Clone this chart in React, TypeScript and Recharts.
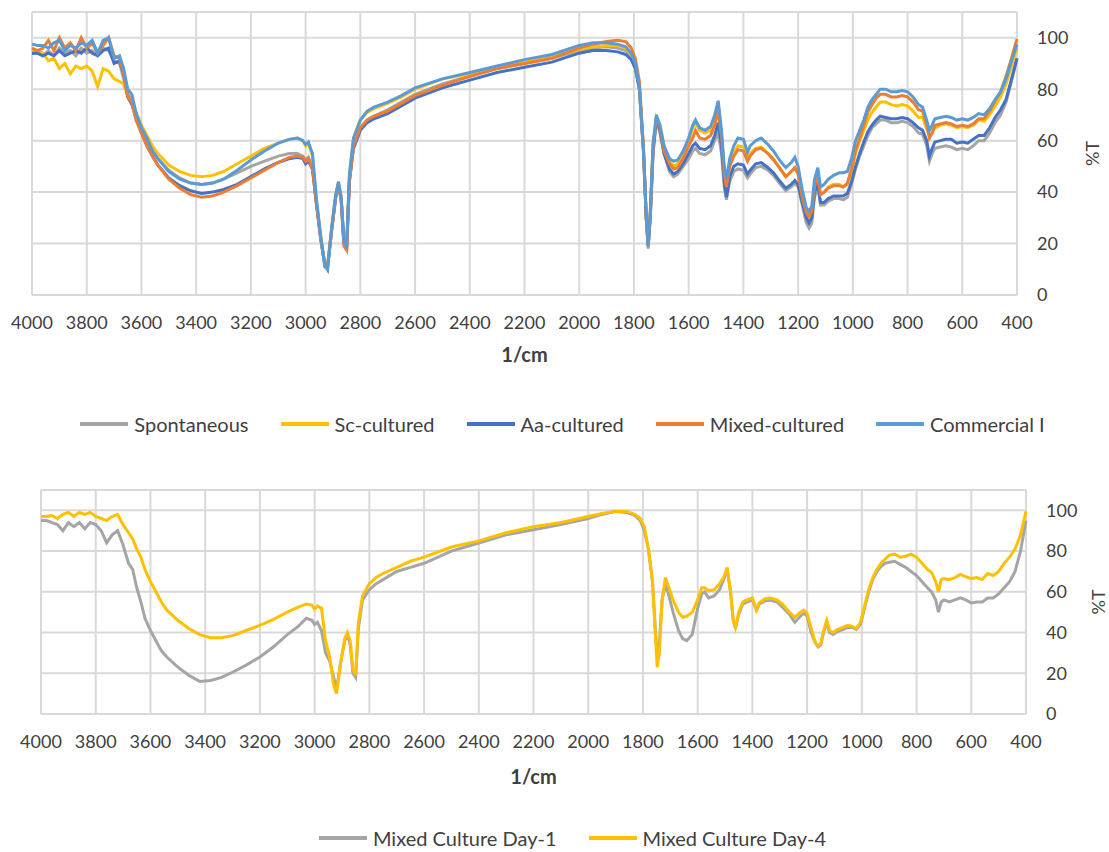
import { CartesianGrid, Line, LineChart, XAxis, YAxis } from "recharts";

// FTIR spectra (%T vs wavenumber).
const wavenumbers = [
  4000, 3980, 3960, 3940, 3920, 3900, 3880, 3860, 3840, 3820, 3800, 3780, 3760, 3740, 3720, 3700,
  3680, 3665, 3650, 3635, 3620, 3600, 3580, 3560, 3540, 3500, 3460, 3420, 3380, 3340, 3300, 3250,
  3200, 3150, 3100, 3060, 3030, 3010, 3000, 2990, 2975, 2960, 2945, 2930, 2920, 2905, 2890, 2880,
  2870, 2860, 2850, 2840, 2825, 2800, 2775, 2750, 2700, 2650, 2600, 2500, 2400, 2300, 2200, 2100,
  2000, 1950, 1900, 1860, 1830, 1810, 1795, 1780, 1765, 1755, 1748, 1740, 1730, 1718, 1705, 1690,
  1670, 1655, 1640, 1620, 1600, 1585, 1575, 1560, 1540, 1520, 1505, 1492, 1480, 1470, 1462, 1450,
  1435, 1420, 1400, 1385, 1375, 1355, 1335, 1310, 1290, 1265, 1245, 1225, 1212, 1200, 1185, 1170,
  1160, 1150, 1140, 1128, 1118, 1105, 1090, 1070, 1050, 1035, 1020, 1005, 990, 975, 960, 945,
  930, 915, 900, 880, 860, 840, 820, 800, 780, 760, 745, 730, 720, 710, 700, 680,
  660, 640, 620, 600, 580, 560, 540, 520, 500, 480, 460, 440, 420, 400,
];

const spontaneous = [
  94, 94, 93, 95, 93, 96, 94, 95, 93, 96, 94, 95, 93, 96, 95, 91,
  90, 84, 78, 76, 70, 65, 60, 56, 53, 48.5, 45.5, 43.5, 43, 43.5, 45, 47.5,
  50, 52, 54, 55, 55, 54, 52.5, 53.5, 50, 35, 22, 12, 11, 25, 38, 43,
  37, 20, 18, 45, 59, 65, 68, 69.5, 72, 75, 78, 82, 85, 88, 90, 92,
  95, 96, 96.5, 96, 95, 93, 89, 80, 55, 30, 18, 30, 55, 68, 63, 55,
  48, 46, 47, 50, 53, 56, 57, 55, 54.5, 56, 60, 63, 55, 42, 37, 44,
  48, 49, 48.5, 45.5, 47, 49.5, 50, 48.5, 46.5, 43, 40.5, 42, 43.5, 42, 35, 28,
  26, 28, 38, 42, 35, 35, 36.5, 37.5, 37.5, 37, 38, 43, 49, 54, 58, 62,
  65, 66.5, 68, 68, 67, 67, 67.5, 67, 65.5, 63, 62.5, 58, 52, 55, 57, 57.5,
  58, 57.5, 56.5, 57, 56.5, 58, 60, 60, 63, 67, 70, 75, 83, 92,
];

const scCultured = [
  95, 95, 94, 91, 92, 88, 90, 86, 89, 88, 89, 87, 81, 88, 87, 84,
  83, 82, 77, 75, 71, 66, 62, 58, 55, 50.5, 48, 46.5, 46, 46.5, 48, 51,
  54, 57, 59, 60.5, 61, 60, 58, 59, 54, 36, 23, 12, 11, 26, 39, 44,
  38, 21, 19, 46, 61, 68, 71, 72.5, 74.5, 77, 80, 84, 86, 88.5, 90.5, 92.5,
  95.5, 96.5, 97, 97, 96, 93.5, 89, 80, 55, 30, 19, 32, 58, 69, 66, 58,
  52, 50, 51, 55, 60, 65, 67, 64, 63, 64, 68, 71, 62, 49, 43, 51,
  55, 58, 57.5, 53, 55, 57, 57.5, 55, 53, 49, 46, 48, 49.5, 47, 39, 32,
  31, 33, 42, 46, 39, 40, 42, 43, 43, 42, 43, 48, 55, 60, 64, 68,
  71, 73, 75, 75, 74, 73.5, 74, 73.5, 71.5, 69, 69, 64.5, 62, 63, 65, 66,
  66.5, 66, 65, 65.5, 65, 66, 68, 67.5, 70, 73.5, 77, 82, 89, 96,
];

const aaCultured = [
  94, 94, 93, 94, 93, 95, 93, 94, 95, 94, 96, 94, 93, 95, 96, 90,
  91, 86, 77, 74, 69, 63, 58, 54, 50.5, 45.5, 42.5, 40.5, 39.5, 40, 41, 43,
  46, 49, 51.5, 53, 53.5, 53, 51, 52, 49, 35, 22, 12, 10, 25, 38, 43,
  37, 20, 18, 44, 57, 64, 67, 68.5, 70.5, 73.5, 76.5, 80.5, 83.5, 86.5, 88.5, 90.5,
  94, 95, 95, 94.5, 93.5, 91.5, 88, 80, 56, 30, 19, 31, 56, 68, 64, 55,
  49, 47, 48, 51, 55, 58, 59, 57, 56.5, 58, 62, 67, 58, 44, 38, 46,
  50, 51, 50.5, 47, 48.5, 51, 51.5, 49.5, 47.5, 44, 41.5, 43, 44.5, 43, 36, 30,
  28, 30, 40, 43, 36, 36, 37.5, 38.5, 38.5, 38.5, 39.5, 44, 50, 55, 59.5, 63.5,
  66, 68, 69.5, 69, 68.5, 68.5, 69, 68.5, 67, 65, 64, 60, 54, 57, 59.5, 60,
  60.5, 60.5, 59, 59.5, 59, 60.5, 62, 62, 65, 69, 72, 76, 84, 92,
];

const mixedCultured = [
  96, 95, 96, 99, 95, 100, 96, 98, 95, 100, 96, 98, 94, 97, 100, 93,
  92, 86, 77, 75, 68, 63, 58, 54, 50.5, 45, 41.5, 39, 38, 38.5, 40, 42.5,
  45.5, 48.5, 51.5, 53.5, 54, 53.5, 52, 53, 49, 35, 22, 12, 11, 25, 38, 43,
  37, 19, 17.5, 44, 58, 65, 68, 69.5, 71.5, 74.5, 77.5, 81.5, 85, 88, 90, 92,
  96, 97.5, 98.5, 99, 98.5, 96, 92, 83, 57, 30, 19, 32, 58, 69, 65, 56,
  51, 49, 49.5, 53, 58, 61, 64, 61, 60.5, 62, 66, 72, 62, 47, 42, 50,
  54, 56.5, 56, 52, 54, 56.5, 57, 55, 52.5, 49, 46, 48, 49.5, 47, 38, 32,
  30.5, 32.5, 42, 46.5, 39, 40, 41.5, 42.5, 42.5, 42, 43.5, 49, 56, 61, 66, 71,
  74, 76.5, 78, 78, 77, 77, 77.5, 77, 75, 72, 71.5, 66, 61, 63, 66, 66.5,
  67, 66.5, 65.5, 66, 65.5, 66.5, 68.5, 68.5, 71.5, 75.5, 79, 85, 92, 99.5,
];

const commercialI = [
  97.5, 97, 97, 96, 98, 99, 95, 97, 96, 98, 97, 99, 94, 99, 100, 92,
  93, 88, 80, 78, 71, 65, 61, 56, 53, 48, 45, 43.5, 43, 43.5, 45, 48.5,
  52.5, 56, 59, 60.5, 61, 60, 58.5, 59.5, 55, 37, 23, 11, 10, 26, 39, 44,
  38, 21, 19, 47, 61, 68, 71.5, 73, 75, 77.5, 80.5, 84, 86.5, 89, 91.5, 93.5,
  97, 98, 98, 97.5, 96.5, 94, 90, 81, 56, 30, 19, 33, 59, 70, 66, 58,
  53, 52, 52.5, 56, 61, 66, 68, 65, 64, 65.5, 70, 75.5, 64, 50, 45, 53,
  58, 61, 60.5, 55.5, 58, 60, 61, 58.5, 56, 52, 49.5, 51.5, 53.5, 50, 41, 34,
  32.5, 34.5, 45, 49.5, 42, 43, 45, 46.5, 47.5, 47.5, 48, 53, 60, 64, 68, 73,
  76, 78, 80, 80, 79, 79, 79.5, 79, 77, 74, 73, 68, 64, 66, 68.5, 69,
  69.5, 69, 68, 68.5, 68, 69, 70.5, 70, 72.5, 76, 79, 84, 91, 97.5,
];

const mixedDay1 = [
  95, 95, 94, 93, 90, 94, 92, 94, 91, 94, 93, 90, 84, 88, 90, 83,
  74, 71, 62, 55, 47, 41, 36, 31, 28, 23, 19, 16, 16.5, 18, 20.5, 24,
  28, 33, 39, 43, 47, 46, 44, 45, 41, 30, 26, 18, 12, 25, 36, 39,
  34, 20, 18, 42, 56, 61, 64, 66, 70, 72, 74, 80, 84, 88, 90.5, 93,
  96, 98, 99.5, 99, 97.5, 95, 90, 81, 65, 42, 28, 35, 56, 64, 58, 50,
  41, 37, 36, 39, 52, 59, 60, 57, 58, 61, 66, 71, 60, 46, 42, 49,
  54, 55, 56, 51, 54, 55.5, 56, 55, 52.5, 49, 45, 48, 49.5, 48, 40, 35,
  33, 34, 40, 45, 40, 39, 40.5, 41.5, 42.5, 42.5, 41.5, 44, 52, 60, 66, 70,
  72.5, 74, 74.5, 75, 73.5, 72, 70, 68, 65, 62, 60, 56, 50, 55, 56, 55,
  56, 57, 56, 54.5, 55, 55, 57, 57, 59, 62, 65, 70, 80, 95,
];

const mixedDay4 = [
  97, 97, 97.5, 96, 98, 99, 97, 99, 98, 99, 97, 96, 95, 97, 98, 93,
  89, 86, 81, 77, 71, 65, 60, 55, 51, 46, 42, 39, 37.5, 37.5, 38.5, 41,
  43.5, 46.5, 50, 52.5, 54, 53.5, 51.5, 53, 52, 36, 28, 14, 10, 25, 37, 40,
  36, 22, 19, 45, 58, 64, 67, 69, 72, 75, 77, 82, 85, 89, 92, 94,
  97, 98.5, 99.5, 99.5, 98, 96, 92, 81, 65, 40, 23, 30, 56, 67, 62, 56,
  50, 47.5, 48, 50, 56, 62, 62, 60.5, 61, 64, 67, 72, 60, 46, 42.5, 50,
  55, 56, 57, 51, 54.5, 56.5, 57, 56, 54, 50, 47.5, 50, 51, 49.5, 42, 35,
  33.5, 34.5, 41, 46, 41, 40, 41.5, 42.5, 43.5, 43, 42, 45, 53, 61, 67, 71,
  74, 76, 78, 78.5, 77, 77.5, 78.5, 77, 74, 71, 69.5, 65, 60, 66, 66.5, 66,
  67, 68.5, 67.5, 66.5, 67, 66, 69, 68, 70, 74, 77, 81, 88, 99.5,
];

const xTicks = [4000, 3800, 3600, 3400, 3200, 3000, 2800, 2600, 2400, 2200, 2000, 1800, 1600, 1400, 1200, 1000, 800, 600, 400];
const yTicks = [0, 20, 40, 60, 80, 100];

const topSeries = [
  { key: "spontaneous", name: "Spontaneous", color: "#A5A5A5", values: spontaneous },
  { key: "scCultured", name: "Sc-cultured", color: "#FFC000", values: scCultured },
  { key: "aaCultured", name: "Aa-cultured", color: "#4472C4", values: aaCultured },
  { key: "mixedCultured", name: "Mixed-cultured", color: "#ED7D31", values: mixedCultured },
  { key: "commercialI", name: "Commercial I", color: "#5B9BD5", values: commercialI },
];

const bottomSeries = [
  { key: "mixedDay1", name: "Mixed Culture Day-1", color: "#A5A5A5", values: mixedDay1 },
  { key: "mixedDay4", name: "Mixed Culture Day-4", color: "#FFC000", values: mixedDay4 },
];

type Series = { key: string; name: string; color: string; values: number[] };

const FONT = "Lato, 'Open Sans', sans-serif";
const TEXT = "#404040";
const GRID = "#d9d9d9";

function toRows(series: Series[]) {
  return wavenumbers.map((w, i) => {
    const row: Record<string, number> = { w };
    series.forEach((s) => (row[s.key] = s.values[i]));
    return row;
  });
}

function Spectrum({
  series,
  top,
  height,
  left,
  yAxisWidth,
  topMargin,
  xAxisHeight,
  titleOffset,
  yTitleGap,
}: {
  series: Series[];
  top: number;
  height: number;
  left: number;
  yAxisWidth: number;
  topMargin: number;
  xAxisHeight: number;
  titleOffset: number;
  yTitleGap: number;
}) {
  const data = toRows(series);
  return (
    <div style={{ position: "absolute", top, left: 0 }}>
      <LineChart
        width={1109}
        height={height}
        data={data}
        margin={{ top: topMargin, right: 0, bottom: 0, left }}
      >
        <CartesianGrid stroke={GRID} strokeWidth={2} />
        <XAxis
          type="number"
          dataKey="w"
          domain={[400, 4000]}
          reversed
          ticks={xTicks}
          interval={0}
          height={xAxisHeight}
          axisLine={false}
          tickLine={false}
          tickSize={0}
          tickMargin={21}
          tick={{ fontSize: 18, fill: TEXT, fontFamily: FONT }}
          label={{
            value: "1/cm",
            position: "insideBottom",
            offset: titleOffset,
            style: { fontSize: 20, fontWeight: 700, fill: TEXT, fontFamily: FONT },
          }}
        />
        <YAxis
          orientation="right"
          domain={[0, 110]}
          ticks={yTicks}
          interval={0}
          width={yAxisWidth}
          axisLine={false}
          tickLine={false}
          tickSize={0}
          tickMargin={20}
          tick={{ fontSize: 18, fill: TEXT, fontFamily: FONT }}
          label={{
            value: "%T",
            content: (p: any) => {
              const vb = p.viewBox || { x: 0, y: 0, width: 0, height: 0 };
              const cx = vb.x + yTitleGap;
              const cy = vb.y + vb.height / 2;
              return (
                <text
                  x={cx}
                  y={cy}
                  transform={`rotate(-90 ${cx} ${cy})`}
                  textAnchor="middle"
                  dominantBaseline="central"
                  style={{ fontSize: 18, fill: TEXT, fontFamily: FONT }}
                >
                  %T
                </text>
              );
            },
          }}
        />
        {series.map((s) => (
          <Line
            key={s.key}
            type="linear"
            dataKey={s.key}
            name={s.name}
            stroke={s.color}
            strokeWidth={3}
            dot={false}
            activeDot={false}
            isAnimationActive={false}
          />
        ))}
      </LineChart>
    </div>
  );
}

function SeriesLegend({ series, top, shift }: { series: Series[]; top: number; shift: number }) {
  return (
    <div
      style={{
        position: "absolute",
        top,
        left: shift,
        width: 1109,
        height: 24,
        display: "flex",
        justifyContent: "center",
        alignItems: "center",
        gap: 32,
        fontFamily: FONT,
        fontSize: 20,
        lineHeight: "24px",
        color: TEXT,
        whiteSpace: "nowrap",
      }}
    >
      {series.map((s) => (
        <div key={s.key} style={{ display: "flex", alignItems: "center" }}>
          <span style={{ display: "inline-block", width: 48, height: 4, background: s.color, marginRight: 6 }} />
          <span>{s.name}</span>
        </div>
      ))}
    </div>
  );
}

export default function App() {
  return (
    <div style={{ position: "absolute", top: 0, left: 0, width: 1109, height: 852, background: "#fff", overflow: "hidden" }}>
      <Spectrum series={topSeries} top={0} height={380} left={32} yAxisWidth={92} topMargin={12} xAxisHeight={85} titleOffset={18} yTitleGap={75} />
      <SeriesLegend series={topSeries} top={412} shift={8} />
      <Spectrum series={bottomSeries} top={460} height={340} left={41} yAxisWidth={83} topMargin={30} xAxisHeight={86} titleOffset={16} yTitleGap={72} />
      <SeriesLegend series={bottomSeries} top={826} shift={18} />
    </div>
  );
}
